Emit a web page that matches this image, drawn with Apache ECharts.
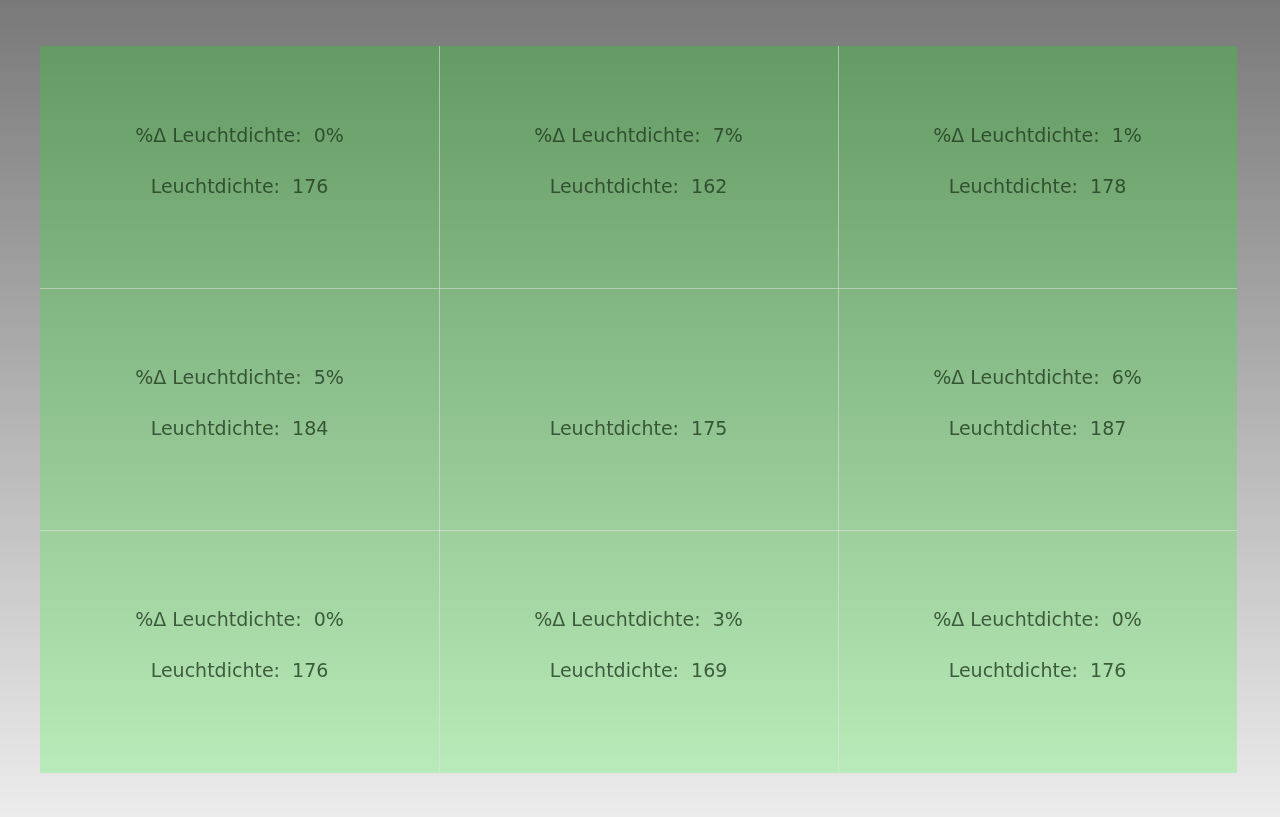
<!DOCTYPE html>
<html>
<head>
<meta charset="utf-8">
<script src="https://cdn.jsdelivr.net/npm/echarts@6/dist/echarts.min.js"></script>
<style>
html,body{margin:0;padding:0;width:1280px;height:817px;overflow:hidden;}
#chart{width:1280px;height:817px;}
</style>
</head>
<body>
<div id="chart"></div>
<script>
// Data
var columns = ['A', 'B', 'C'];
var rows = ['1', '2', '3']; // top to bottom
var pctDelta = ['0%', '7%', '1%', '5%', '', '6%', '0%', '3%', '0%'];
var luminance = [176, 162, 178, 184, 175, 187, 176, 169, 176];
var pctLabel = '%\u0394 Leuchtdichte:';
var lumLabel = 'Leuchtdichte:';

var points = [];
for (var i = 0; i < luminance.length; i++) {
  var r = Math.floor(i / 3), c = i % 3;
  points.push({ value: [columns[c], rows[r]], pct: pctDelta[i], lum: luminance[i] });
}

var lineC = 'rgba(225,225,225,0.55)';
var splitColors = ['rgba(0,0,0,0)', lineC, lineC, 'rgba(0,0,0,0)'];

var chart = echarts.init(document.getElementById('chart'));
chart.setOption({
  animation: false,
  backgroundColor: {
    type: 'linear', x: 0, y: 0, x2: 0, y2: 1,
    colorStops: [{ offset: 0, color: '#797979' }, { offset: 1, color: '#ececec' }]
  },
  grid: {
    left: 40, top: 46, right: 43, bottom: 44,
    show: true, borderWidth: 0,
    backgroundColor: {
      type: 'linear', x: 0, y: 0, x2: 0, y2: 1,
      colorStops: [{ offset: 0, color: '#649a64' }, { offset: 1, color: '#b9eab9' }]
    }
  },
  xAxis: {
    type: 'category', data: columns, boundaryGap: true,
    axisLine: { show: false }, axisTick: { show: false }, axisLabel: { show: false },
    splitLine: { show: true, interval: 0, lineStyle: { color: splitColors, width: 1 } }
  },
  yAxis: {
    type: 'category', data: rows, inverse: true, boundaryGap: true,
    axisLine: { show: false }, axisTick: { show: false }, axisLabel: { show: false },
    splitLine: { show: true, interval: 0, lineStyle: { color: splitColors, width: 1 } }
  },
  series: [{
    type: 'scatter',
    data: points,
    symbolSize: 1,
    itemStyle: { color: 'rgba(0,0,0,0)' },
    label: {
      show: true,
      position: 'inside',
      offset: [0, -5],
      formatter: function (p) {
        var d = p.data;
        var a = d.pct ? pctLabel + '  ' + d.pct : ' ';
        return '{a|' + a + '}\n{b|' + lumLabel + '  ' + d.lum + '}';
      },
      rich: {
        a: { fontFamily: 'DejaVu Sans', fontSize: 19, color: '#213a21', lineHeight: 51, align: 'center' },
        b: { fontFamily: 'DejaVu Sans', fontSize: 19, color: '#213a21', lineHeight: 51, align: 'center' }
      }
    },
    emphasis: { disabled: true },
    silent: true
  }]
});
</script>
</body>
</html>
